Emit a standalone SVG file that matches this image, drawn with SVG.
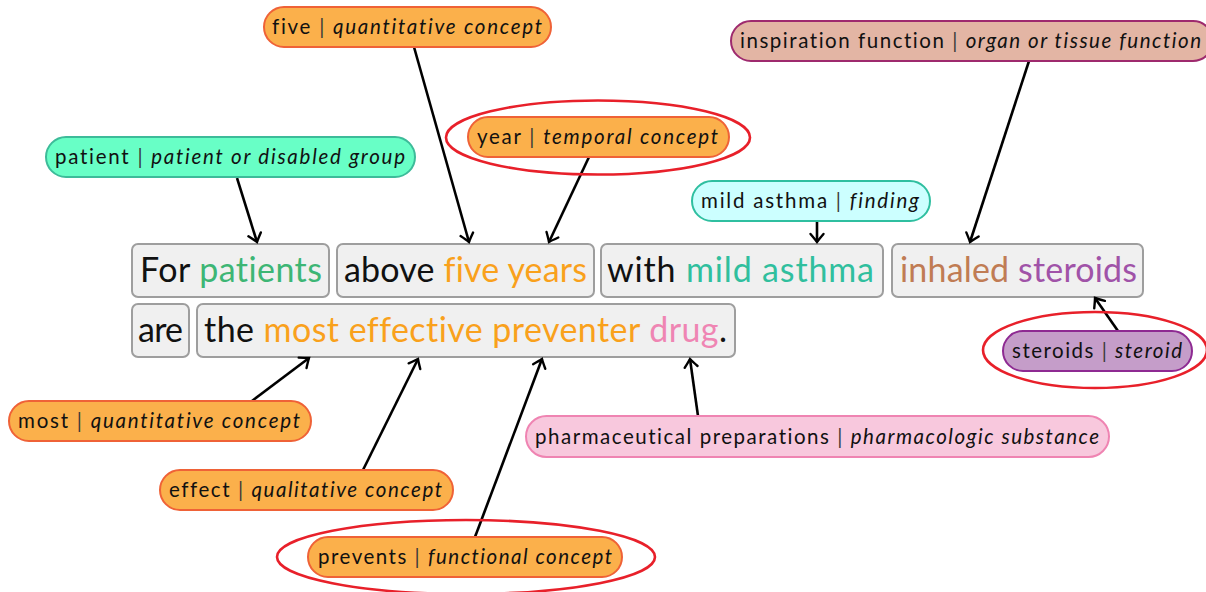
<svg xmlns="http://www.w3.org/2000/svg" width="1206" height="592" viewBox="0 0 1206 592">
  <style>
    .pill { stroke-width: 2; }
    .orange { fill: #FBB04B; stroke: #EF6237; }
    .aqua { fill: #68FFC6; stroke: #3DBB99; }
    .cyan { fill: #CCFFFF; stroke: #2FBFA0; }
    .tissue { fill: #E3B5A4; stroke: #9E2A6E; }
    .steroid { fill: #C59DC9; stroke: #8E2A92; }
    .pink { fill: #F8C8DD; stroke: #EF84B2; }
    .lbl { font-family: "Lato", "DejaVu Sans", sans-serif; font-size: 20.5px; fill: #111; font-variant-ligatures: none; }
    .it { font-style: italic; }
    .sep { fill: #3a3a3a; }
    .box { fill: #F0F0F0; stroke: #9E9E9E; stroke-width: 2; }
    .sent { font-family: "Lato", "DejaVu Sans", sans-serif; font-size: 34px; fill: #111; font-variant-ligatures: none; }
    .hl { fill: none; stroke: #E8202A; stroke-width: 2.6; }
    .conn { fill: none; stroke: #000; stroke-width: 2.6; marker-end: url(#arr); }
    .c-green { fill: #3DB675; }
    .c-orange { fill: #F9A11C; }
    .c-teal { fill: #30BF9E; }
    .c-brown { fill: #C07C54; }
    .c-purple { fill: #A053A8; }
    .c-pink { fill: #EF85B3; }
  </style>
  <defs>
    <marker id="arr" viewBox="-10 -10 20 20" markerWidth="20" markerHeight="20" markerUnits="userSpaceOnUse" refX="0" refY="0" orient="auto" overflow="visible">
      <path d="M-8,-6.5 Q-2.5,-1.8 0,0 Q-2.5,1.8 -8,6.5" fill="none" stroke="#000" stroke-width="2.4" stroke-linecap="round"/>
    </marker>
  </defs>

  <rect width="1206" height="592" fill="#fff"/>

  <!-- sentence boxes -->
  <g id="sentence">
    <g id="chunk-for-patients">
      <rect class="box" x="132" y="244" width="197" height="53" rx="6"/>
      <text class="sent" x="140" y="282" textLength="182">For <tspan class="c-green">patients</tspan></text>
    </g>
    <g id="chunk-above-five-years">
      <rect class="box" x="337" y="244" width="257" height="53" rx="6"/>
      <text class="sent" x="344" y="282" textLength="243">above <tspan class="c-orange">five years</tspan></text>
    </g>
    <g id="chunk-with-mild-asthma">
      <rect class="box" x="601" y="244" width="282" height="53" rx="6"/>
      <text class="sent" x="607" y="282" textLength="267">with <tspan class="c-teal">mild asthma</tspan></text>
    </g>
    <g id="chunk-inhaled-steroids">
      <rect class="box" x="892" y="244" width="251" height="53" rx="6"/>
      <text class="sent" x="900" y="282" textLength="237"><tspan class="c-brown">inhaled</tspan> <tspan class="c-purple">steroids</tspan></text>
    </g>
    <g id="chunk-are">
      <rect class="box" x="132" y="304" width="57" height="53" rx="6"/>
      <text class="sent" x="138" y="342" textLength="45">are</text>
    </g>
    <g id="chunk-the-drug">
      <rect class="box" x="197" y="304" width="538" height="53" rx="6"/>
      <text class="sent" x="204" y="342" textLength="523">the <tspan class="c-orange">most effective preventer</tspan> <tspan class="c-pink">drug</tspan>.</text>
    </g>
  </g>

  <!-- concept links -->
  <g id="connectors">
    <path class="conn" d="M237,178 L257,242"/>
    <path class="conn" d="M414,47 L469,242"/>
    <path class="conn" d="M589,157 L549,242"/>
    <path class="conn" d="M817,222 L817,242"/>
    <path class="conn" d="M1029,61 L970,242"/>
    <path class="conn" d="M1118,331 L1095,298"/>
    <path class="conn" d="M252,401 L309,358"/>
    <path class="conn" d="M363,470 L418,359"/>
    <path class="conn" d="M475,537 L542,359"/>
    <path class="conn" d="M698,416 L690,359"/>
  </g>

  <!-- concept nodes -->
  <g id="node-five">
    <rect class="pill orange" x="264" y="7" width="287" height="40" rx="20"/>
    <text class="lbl" x="272" y="33.5" textLength="270">five <tspan class="sep">|</tspan> <tspan class="it">quantitative concept</tspan></text>
  </g>
  <g id="node-year">
    <ellipse class="hl" cx="598" cy="137.5" rx="152" ry="37"/>
    <rect class="pill orange" x="468" y="117" width="261" height="40" rx="20"/>
    <text class="lbl" x="477" y="143.5" textLength="241">year <tspan class="sep">|</tspan> <tspan class="it">temporal concept</tspan></text>
  </g>
  <g id="node-patient">
    <rect class="pill aqua" x="46" y="137" width="369" height="40" rx="20"/>
    <text class="lbl" x="55" y="163.5" textLength="350">patient <tspan class="sep">|</tspan> <tspan class="it">patient or disabled group</tspan></text>
  </g>
  <g id="node-mild-asthma">
    <rect class="pill cyan" x="692" y="181" width="238" height="40" rx="20"/>
    <text class="lbl" x="701" y="207.5" textLength="218">mild asthma <tspan class="sep">|</tspan> <tspan class="it">finding</tspan></text>
  </g>
  <g id="node-inspiration">
    <rect class="pill tissue" x="731" y="21" width="482" height="40" rx="20"/>
    <text class="lbl" x="740" y="47.5" textLength="461">inspiration function <tspan class="sep">|</tspan> <tspan class="it">organ or tissue function</tspan></text>
  </g>
  <g id="node-steroids">
    <ellipse class="hl" cx="1095" cy="350" rx="112" ry="38"/>
    <rect class="pill steroid" x="1003" y="331" width="189" height="40" rx="20"/>
    <text class="lbl" x="1012" y="357.5" textLength="170">steroids <tspan class="sep">|</tspan> <tspan class="it">steroid</tspan></text>
  </g>
  <g id="node-most">
    <rect class="pill orange" x="9" y="401" width="302" height="40" rx="20"/>
    <text class="lbl" x="18" y="427.5" textLength="282">most <tspan class="sep">|</tspan> <tspan class="it">quantitative concept</tspan></text>
  </g>
  <g id="node-effect">
    <rect class="pill orange" x="160" y="470" width="293" height="40" rx="20"/>
    <text class="lbl" x="169" y="496.5" textLength="273">effect <tspan class="sep">|</tspan> <tspan class="it">qualitative concept</tspan></text>
  </g>
  <g id="node-prevents">
    <ellipse class="hl" cx="466" cy="557" rx="189" ry="37"/>
    <rect class="pill orange" x="308" y="537" width="314" height="40" rx="20"/>
    <text class="lbl" x="318" y="563.5" textLength="294">prevents <tspan class="sep">|</tspan> <tspan class="it">functional concept</tspan></text>
  </g>
  <g id="node-pharma">
    <rect class="pill pink" x="526" y="416" width="583" height="41" rx="20.5"/>
    <text class="lbl" x="535" y="443.5" textLength="564">pharmaceutical preparations <tspan class="sep">|</tspan> <tspan class="it">pharmacologic substance</tspan></text>
  </g>
</svg>
